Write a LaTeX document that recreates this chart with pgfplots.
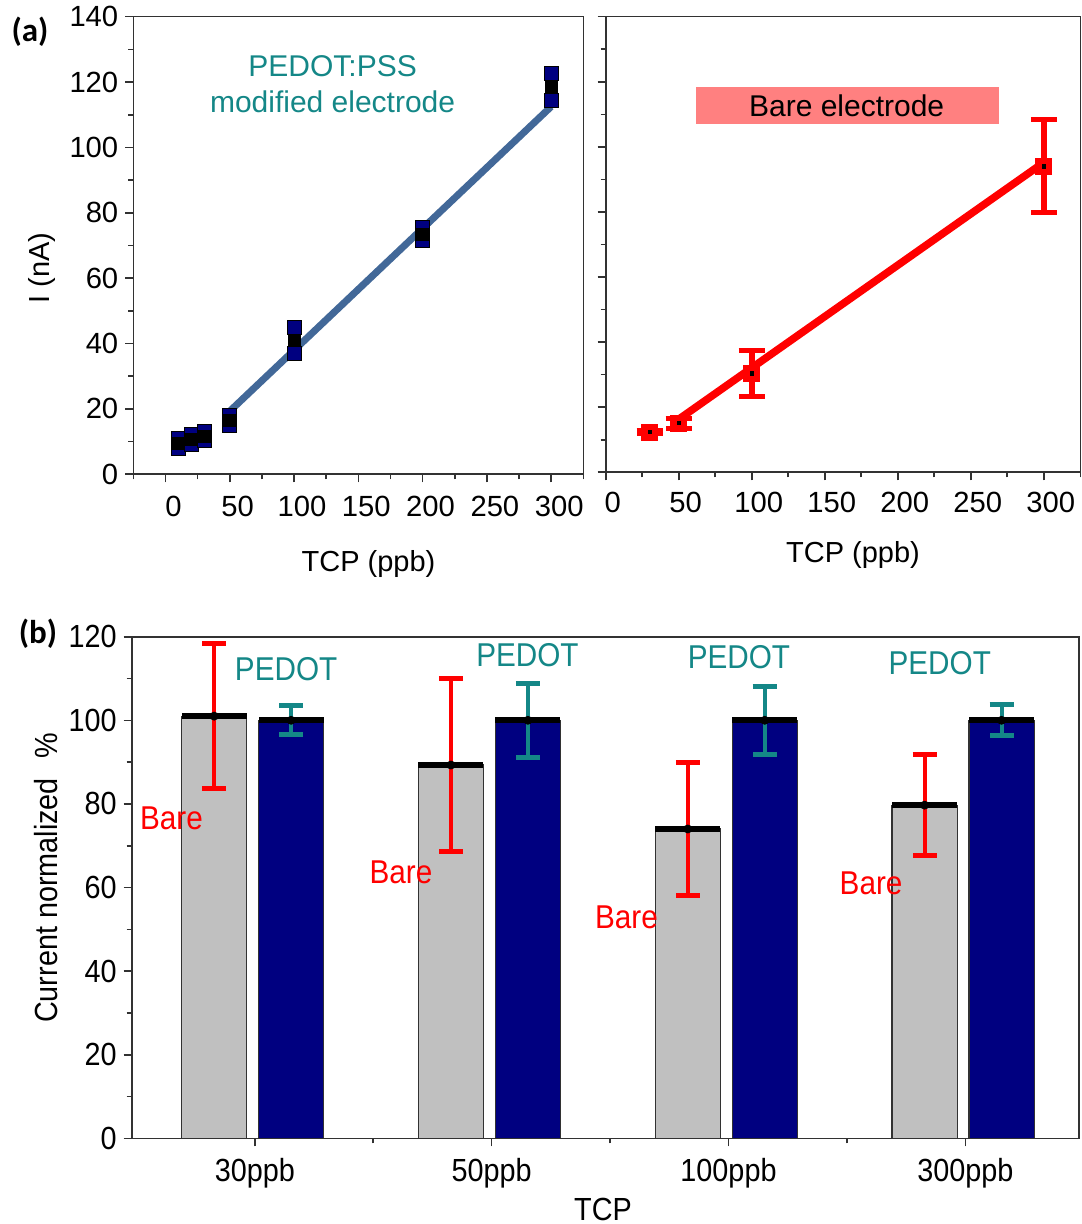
\documentclass[border=0pt]{standalone}
\usepackage{fontspec}
\setmainfont{Liberation Sans}
\newfontfamily\narrowfont[FakeStretch=0.9]{Liberation Sans}
\newfontfamily\panelfont{Carlito}
\usepackage{pgfplots}
\pgfplotsset{compat=1.18}

\definecolor{navybar}{RGB}{0,0,128}
\definecolor{greybar}{RGB}{192,192,192}
\definecolor{fitblue}{RGB}{66,104,152}
\definecolor{tealtxt}{RGB}{20,135,135}
\definecolor{barered}{RGB}{255,0,0}
\definecolor{boxpink}{RGB}{255,128,128}
\definecolor{axisgrey}{RGB}{50,50,50}

\pgfplotsset{
  panel/.style={
    scale only axis,
    clip=false,
    axis line style={axisgrey, line width=0.8pt},
    every tick/.style={axisgrey, line width=0.8pt},
    tick align=outside,
    xtick pos=left, ytick pos=left,
    major tick length=4pt,
    minor tick length=2.5pt,
    /pgf/number format/assume math mode=true,
  },
}

% calibration curves
\pgfplotstableread{
x    y      e
10   9.4    1.5
20   10.7   1.5
30   11.7   1.5
50   16.4   1.5
100  41.0   4.0
200  73.5   2.0
300  118.5  4.0
}\pedotcal
\pgfplotstableread{
x    y      e
30   12.4   0.5
50   15.1   1.5
100  30.4   7.0
300  94.0   14.3
}\barecal

% normalized currents
\pgfplotstableread{
x       y      e
-0.172  101.0  17.3
0.828   89.3   20.7
1.828   74.0   15.8
2.828   79.7   12.1
}\barenorm
\pgfplotstableread{
x       y      e
0.153   100.0  3.5
1.153   100.0  8.8
2.153   100.0  8.2
3.153   100.0  3.7
}\pedotnorm

\begin{document}
\begin{tikzpicture}
\useasboundingbox (0pt,0pt) rectangle (540.5pt,-612pt);

\node[font=\panelfont\bfseries\fontsize{16.5}{18}\selectfont] at (15pt,-16pt) {(a)};
\node[font=\panelfont\bfseries\fontsize{16.5}{18}\selectfont] at (19pt,-317pt) {(b)};

% ---------- (a) PEDOT:PSS modified electrode ----------
\begin{axis}[panel,
  at={(66.65pt,-8.35pt)}, anchor=north west,
  width=225pt, height=228.8pt,
  xmin=-25, xmax=325, ymin=0, ymax=140,
  xtick={0,50,...,300}, minor xtick={-25,25,...,325},
  ytick={0,20,...,140}, minor ytick={10,30,...,130},
  ticklabel style={font=\fontsize{14.6}{16}\selectfont},
  xticklabel style={xshift=4pt, yshift=-3.5pt},
  xlabel={TCP (ppb)}, ylabel={I (nA)},
  xlabel style={at={(axis description cs:0.5227,-0.197)}, anchor=center, font=\fontsize{14.5}{17}\selectfont},
  ylabel style={at={(axis description cs:-0.203,0.451)}, anchor=center, font=\fontsize{14.5}{17}\selectfont},
]
\addplot[fitblue, line width=3.5pt] coordinates {(50,19.3) (300,112.5)};
\addplot[only marks, mark=square*, mark size=3pt, mark options={fill=black, draw=black}] table[x=x, y=y] {\pedotcal};
\addplot[only marks, mark=none,
  error bars/.cd, y dir=both, y explicit,
  error bar style={draw=navybar, line width=1.2pt},
  error mark=square*,
  error mark options={fill=navybar, draw=black, line width=0.5pt, mark size=3.5pt}]
  table[x=x, y=y, y error=e] {\pedotcal};
\node[align=center, text=tealtxt, font=\fontsize{15}{18}\selectfont] at (axis cs:130,119.3) {PEDOT:PSS\\modified electrode};
\end{axis}

% ---------- (a) bare electrode ----------
\begin{axis}[panel,
  at={(302.85pt,-8.35pt)}, anchor=north west,
  width=237.3pt, height=227.8pt,
  xmin=0, xmax=325, ymin=0, ymax=140,
  xtick={0,50,...,300}, minor xtick={25,75,...,325},
  ytick={0,20,...,140}, minor ytick={10,30,...,130},
  yticklabels={},
  ticklabel style={font=\fontsize{14.6}{16}\selectfont},
  xticklabel style={xshift=3.5pt, yshift=-2.5pt},
  xlabel={TCP (ppb)},
  xlabel style={at={(axis description cs:0.521,-0.1815)}, anchor=center, font=\fontsize{14.5}{17}\selectfont},
]
\fill[boxpink] (axis cs:61.6,107) rectangle (axis cs:269,118.3);
\node[font=\fontsize{15}{18}\selectfont] at (axis cs:165,112.65) {Bare electrode};
\addplot[barered, line width=3.8pt] coordinates {(50,16.3) (300,95.2)};
\addplot[only marks, mark=square*, mark size=4pt, mark options={fill=barered, draw=barered},
  error bars/.cd, y dir=both, y explicit,
  error bar style={draw=barered, line width=3pt},
  error mark options={rotate=90, draw=barered, line width=2.5pt, mark size=6.5pt}]
  table[x=x, y=y, y error=e] {\barecal};
\addplot[only marks, mark=square*, mark size=0.8pt, mark options={fill=black, draw=black}] table[x=x, y=y] {\barecal};
\end{axis}

% ---------- (b) normalized current ----------
\begin{axis}[panel,
  at={(65.85pt,-318.35pt)}, anchor=north west,
  width=473.65pt, height=250.8pt,
  xmin=-0.52, xmax=3.48, ymin=0, ymax=120,
  xtick={0,1,2,3}, xticklabels={30ppb,50ppb,100ppb,300ppb},
  minor xtick={0.5,1.5,2.5},
  ytick={0,20,...,120}, minor ytick={10,30,...,110},
  ticklabel style={font=\narrowfont\fontsize{16}{18}\selectfont},
  xticklabel style={yshift=-2.5pt},
  xlabel={TCP}, ylabel={Current normalized\hspace{0.6em}\%},
  xlabel style={at={(axis description cs:0.4975,-0.141)}, anchor=center, font=\narrowfont\fontsize{16}{18}\selectfont},
  ylabel style={at={(axis description cs:-0.0905,0.519)}, anchor=center, font=\narrowfont\fontsize{16}{18}\selectfont},
]
\addplot[ybar, bar width=0.275, bar shift=0pt, fill=greybar, draw=axisgrey, line width=0.6pt] table[x=x, y=y] {\barenorm};
\addplot[ybar, bar width=0.275, bar shift=0pt, fill=navybar, draw=axisgrey, line width=0.6pt] table[x=x, y=y] {\pedotnorm};
\addplot[only marks, mark=-, mark size=16.25pt, mark options={draw=black, line width=3pt}] table[x=x, y=y] {\barenorm};
\addplot[only marks, mark=-, mark size=16.25pt, mark options={draw=black, line width=3pt}] table[x=x, y=y] {\pedotnorm};
\addplot[only marks, mark=none,
  error bars/.cd, y dir=both, y explicit,
  error bar style={draw=barered, line width=2pt},
  error mark options={rotate=90, draw=barered, line width=2.5pt, mark size=6pt}]
  table[x=x, y=y, y error=e] {\barenorm};
\addplot[only marks, mark=none,
  error bars/.cd, y dir=both, y explicit,
  error bar style={draw=tealtxt, line width=2pt},
  error mark options={rotate=90, draw=tealtxt, line width=2.5pt, mark size=6pt}]
  table[x=x, y=y, y error=e] {\pedotnorm};
\begin{scope}[font=\narrowfont\fontsize{16.5}{18}\selectfont]
\node[text=barered] at (axis cs:-0.352,76.6) {Bare};
\node[text=barered] at (axis cs:0.617,63.7) {Bare};
\node[text=barered] at (axis cs:1.569,52.8) {Bare};
\node[text=barered] at (axis cs:2.602,60.9) {Bare};
\node[text=tealtxt] at (axis cs:0.132,112.2) {PEDOT};
\node[text=tealtxt] at (axis cs:1.151,115.7) {PEDOT};
\node[text=tealtxt] at (axis cs:2.044,115.0) {PEDOT};
\node[text=tealtxt] at (axis cs:2.892,113.6) {PEDOT};
\end{scope}
\end{axis}
\end{tikzpicture}
\end{document}
